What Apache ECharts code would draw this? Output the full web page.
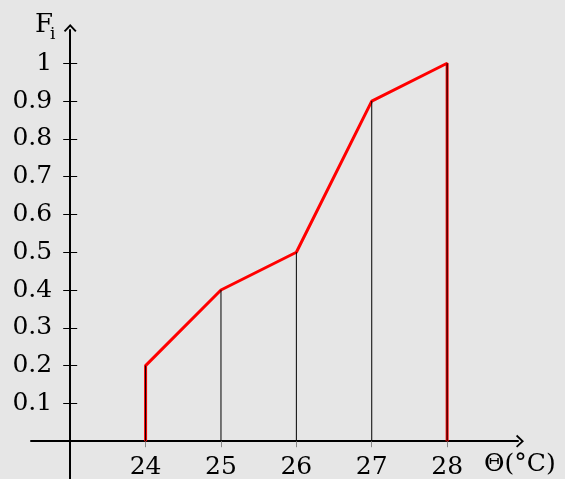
<!DOCTYPE html>
<html>
<head>
<meta charset="utf-8">
<script src="https://cdn.jsdelivr.net/npm/echarts@6/dist/echarts.min.js"></script>
<style>html,body{margin:0;padding:0;background:#e6e6e6;}#c{width:565px;height:479px;}</style>
</head>
<body>
<div id="c"></div>
<script>
// Data
const temps = [24, 25, 26, 27, 28];
const freqs = [0.2, 0.4, 0.5, 0.9, 1.0];
const xTicks = [24, 25, 26, 27, 28];
const yTicks = [0.1, 0.2, 0.3, 0.4, 0.5, 0.6, 0.7, 0.8, 0.9, 1];
const X0 = 23; // value where the vertical axis sits

const FONT = 'DejaVu Serif';
const FS = 25;

// grid geometry
const G = { left: 31, right: 47, top: 30, bottom: 0 };
const XMIN = -0.52, XMAX = 5.94, YMIN = -0.1, YMAX = 1.088;
const W = 565 - G.left - G.right, H = 479 - G.top - G.bottom;
const yAxisOffset = -(0 - XMIN) / (XMAX - XMIN) * W;
const xAxisOffset = -(0 - YMIN) / (YMAX - YMIN) * H;

// polyline: starts on axis at first temp, ends on axis at last temp
const redLine = [[temps[0] - X0, 0]];
temps.forEach((t, i) => redLine.push([t - X0, freqs[i]]));
redLine.push([temps[temps.length - 1] - X0, 0]);

// drop lines
const drops = [];
temps.forEach((t, i) => {
  drops.push([t - X0, 0]);
  drops.push([t - X0, freqs[i]]);
  drops.push([t - X0, '-']);
});

const arrowPath = 'path://M6.5,0 L13,7 L11.6,8.2 L6.5,2.8 L1.4,8.2 L0,7 Z';

const chart = echarts.init(document.getElementById('c'));
chart.setOption({
  backgroundColor: '#e6e6e6',
  animation: false,
  grid: { left: G.left, right: G.right, top: G.top, bottom: G.bottom, containLabel: false, outerBoundsMode: 'none' },
  xAxis: {
    type: 'value',
    position: 'bottom',
    offset: xAxisOffset,
    min: XMIN, max: XMAX,
    axisLine: { onZero: false, lineStyle: { color: '#000', width: 2 },
      symbol: ['none', arrowPath], symbolSize: [13, 8], symbolOffset: [0, 2] },
    axisTick: { show: true, customValues: xTicks.map(v => v - X0), length: 6,
      lineStyle: { color: '#888', width: 1 } },
    axisLabel: { customValues: xTicks.map(v => v - X0), formatter: v => String(Math.round(v + X0)),
      color: '#000', fontFamily: FONT, fontSize: FS, margin: 14 },
    splitLine: { show: false }
  },
  yAxis: [{
    type: 'value',
    position: 'left',
    offset: yAxisOffset,
    min: YMIN, max: YMAX,
    axisLine: { onZero: false, lineStyle: { color: '#000', width: 2 },
      symbol: ['none', arrowPath], symbolSize: [13, 8], symbolOffset: [0, 2] },
    axisTick: { show: true, customValues: yTicks, length: 7, inside: false,
      lineStyle: { color: '#000', width: 1 } },
    axisLabel: { customValues: yTicks, formatter: v => String(Math.round(v * 10) / 10),
      color: '#000', fontFamily: FONT, fontSize: FS, margin: 18 },
    splitLine: { show: false }
  }, {
    type: 'value',
    position: 'left',
    offset: yAxisOffset,
    min: YMIN, max: YMAX,
    axisLine: { onZero: false, show: false },
    axisTick: { show: true, customValues: yTicks, length: 7, inside: true,
      lineStyle: { color: '#000', width: 1 } },
    axisLabel: { show: false },
    splitLine: { show: false }
  }],
  series: [{
    type: 'line',
    data: redLine,
    showSymbol: false,
    symbol: 'none',
    lineStyle: { color: '#ff0000', width: 3 },
    z: 3
  }, {
    type: 'line',
    data: drops,
    showSymbol: false,
    symbol: 'none',
    connectNulls: false,
    lineStyle: { color: '#000', width: 1 },
    z: 4
  }],
  graphic: [{
    type: 'text', left: 35, top: 12, z: 10,
    style: { text: 'F', fontFamily: FONT, fontSize: 26, fill: '#000' }
  }, {
    type: 'text', left: 50, top: 26, z: 10,
    style: { text: 'i', fontFamily: FONT, fontSize: 17, fill: '#000' }
  }, {
    type: 'text', left: 484, top: 452, z: 10,
    style: { text: 'Θ(°C)', fontFamily: FONT, fontSize: 25, fill: '#000' }
  }]
});
</script>
</body>
</html>
